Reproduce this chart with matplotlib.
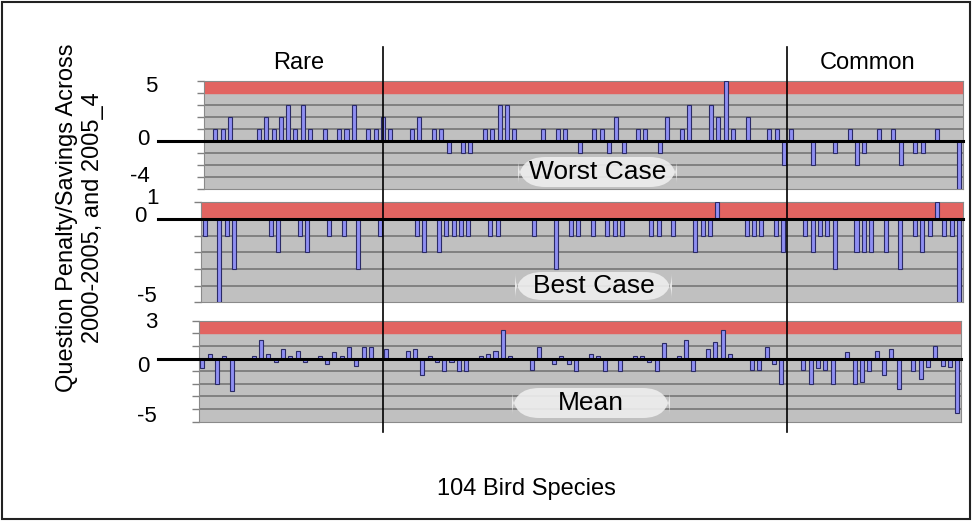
import matplotlib.pyplot as plt
import matplotlib.transforms as mtransforms
from matplotlib.patches import FancyBboxPatch, Rectangle
from matplotlib.lines import Line2D
import numpy as np

plt.rcParams['font.family'] = ['Liberation Sans', 'DejaVu Sans']

# Werte pro Art (104 Arten, sortiert von selten nach häufig)
worst_case = [0, 1, 1, 2, 0, 0, 0, 1, 2, 1, 2, 3, 1, 3, 1, 0, 1, 0, 1, 1, 3, 0, 1, 1,
              2, 1, 0, 0, 1, 2, 0, 1, 1, -1, 0, -1, -1, 0, 1, 1, 3, 3, 1, 0, 0, 0, 1, 0,
              1, 1, 0, -1, 0, 1, 1, -1, 2, -1, 0, 1, 1, 0, -1, 2, 0, 1, 3, 0, 0, 3, 2, 5,
              1, 0, 2, 0, 0, 1, 1, -2,
              1, 0, 0, -2, 0, 0, -1, 0, 1, -2, -1, 0, 1, 0, 1, -2, 0, -1, -1, 0, 1, 0, 0, -4]
best_case = [-1, 0, -5, -1, -3, 0, 0, 0, 0, -1, -2, 0, 0, -1, -2, 0, 0, -1, 0, -1, 0, -3, 0, 0,
             -1, 0, 0, 0, 0, -1, -2, 0, -2, -1, -1, -1, -1, 0, 0, -1, -1, 0, 0, 0, 0, -1, 0, 0,
             -3, 0, -1, -1, 0, -1, 0, -1, -1, -1, 0, 0, 0, -1, -1, 0, -1, 0, 0, -2, -1, -1, 1, 0,
             0, 0, -1, -1, -1, 0, -1, -2,
             0, 0, -1, -2, -1, -1, -3, 0, 0, -2, -2, -2, 0, -2, 0, -3, 0, -1, -2, -1, 1, -1, -1, -5]
mean_case = [-0.75, 0.35, -2.05, 0.2, -2.6, 0, 0, 0.2, 1.45, 0.35, -0.3, 0.75, 0.2, 0.6, -0.25, 0,
             0.2, -0.45, 0.5, 0.2, 0.95, -0.6, 0.95, 0.95,
             0, 0.75, 0, 0, 0.6, 0.75, -1.27, 0.2, -0.25, -1.0, -0.25, -1.0, -1.0, 0, 0.2, 0.35,
             0.6, 2.3, 0.2, 0, 0, -0.9, 0.95, 0, -0.45, 0.2, -0.4, -1.0, 0, 0.35, 0.2, -1.0,
             0, -1.0, 0, 0.2, 0.2, -0.3, -1.0, 1.2, 0, 0.2, 1.45, -1.0, 0, 0.75, 1.3, 2.3,
             0.35, 0, 0, -0.9, -0.9, 0.95, -0.4, -2.05,
             0, 0, -0.9, -2.05, -0.75, -0.9, -2.05, 0, 0.5, -2.05, -1.85, -1.0, 0.6, -1.27, 0.75, -2.45,
             0, -1.0, -1.6, -0.7, 1.0, -0.6, -0.7, -4.3]

panel_names = ['Worst Case', 'Best Case', 'Mean']
panel_values = [worst_case, best_case, mean_case]
y_ranges = [(-4, 5), (-5, 1), (-5, 3)]
tick_labels = [['5', '0', '-4'], ['1', '0', '-5'], ['3', '0', '-5']]
group_names = ['Rare', 'Common']

W, H = 972, 521
fig = plt.figure(figsize=(W / 100, H / 100), dpi=100)

# Lage der drei Diagramme in Pixeln (links, rechts, oben, unten)
boxes = [(204.3, 962.7, 81, 189), (201, 962.7, 202.3, 302.3), (198.6, 961, 320.7, 421.5)]
# Beschriftungen: (x, y, Ausrichtung) in Pixeln
label_pos = [[(157, 87, 'right'), (150, 139, 'right'), (150, 176, 'right')],
             [(146, 199, 'left'), (146, 217, 'right'), (157, 297, 'right')],
             [(157, 323, 'right'), (150, 366, 'right'), (157, 417, 'right')]]
name_boxes = [(518, 677, 157, 187), (515, 672, 272, 300), (512, 670, 388, 418)]

x = np.arange(104)
for vals, (lo, hi), (l, r, t, b), name, tl, lp, nb in zip(
        panel_values, y_ranges, boxes, panel_names, tick_labels, label_pos, name_boxes):
    ax = fig.add_axes([l / W, 1 - b / H, (r - l) / W, (b - t) / H])
    ax.set_facecolor('#c0c0c0')
    ax.set_xlim(-0.5, 103.5)
    ax.set_ylim(lo, hi)
    for y in range(lo + 1, hi):
        if y != 0:
            ax.axhline(y, color='#707070', lw=1.1, zorder=1)
    ax.axhspan(hi - 1, hi, color='#e26461', zorder=1.5)
    ax.bar(x, vals, width=0.55, color='#8f8ff2', edgecolor='#2a2a66', lw=0.8, zorder=3)
    trans = mtransforms.blended_transform_factory(ax.transAxes, ax.transData)
    ax.plot([(158 - l) / (r - l), 1.0], [0, 0], transform=trans, color='black',
            lw=2.2, clip_on=False, zorder=4)
    ax.set_xticks([])
    ax.set_yticks(range(lo, hi + 1))
    ax.set_yticklabels([])
    ax.tick_params(axis='y', length=5, color='#808080', width=1)
    for s in ax.spines.values():
        s.set_color('#8a8a8a')
    for lab, (lx, ly, ha) in zip(tl, lp):
        fig.text(lx / W, 1 - ly / H, lab, ha=ha, va='center', fontsize=16)
    bl, br, bt, bb = nb
    fig.add_artist(FancyBboxPatch((bl / W, 1 - bb / H), (br - bl) / W, (bb - bt) / H,
                                  boxstyle='round,pad=0,rounding_size=0.028',
                                  mutation_aspect=W / H,
                                  transform=fig.transFigure, facecolor='#eeeeee',
                                  edgecolor='none', alpha=0.9, zorder=5))
    fig.text((bl + br) / 2 / W, 1 - (bt + bb) / 2 / H, name, ha='center', va='center',
             fontsize=19, zorder=6)

# senkrechte Trennlinien selten / häufig
for xp in [382.7, 787.3]:
    fig.add_artist(Line2D([xp / W, xp / W], [1 - 47 / H, 1 - 432 / H], color='black', lw=1.2))

fig.text(299 / W, 1 - 63 / H, group_names[0], ha='center', va='center', fontsize=17)
fig.text(868 / W, 1 - 63 / H, group_names[1], ha='center', va='center', fontsize=17)
fig.text(526 / W, 1 - 489 / H, '104 Bird Species', ha='center', va='center', fontsize=17)
fig.text(80 / W, 1 - 218 / H, 'Question Penalty/Savings Across\n2000-2005, and 2005_4',
         ha='center', va='center', rotation=90, fontsize=17, linespacing=1.25)

fig.add_artist(Rectangle((2 / W, 2 / H), (W - 4) / W, (H - 4) / H, transform=fig.transFigure,
                         fill=False, edgecolor='#222222', lw=1.5))

fig.savefig('out.png', dpi=100)
